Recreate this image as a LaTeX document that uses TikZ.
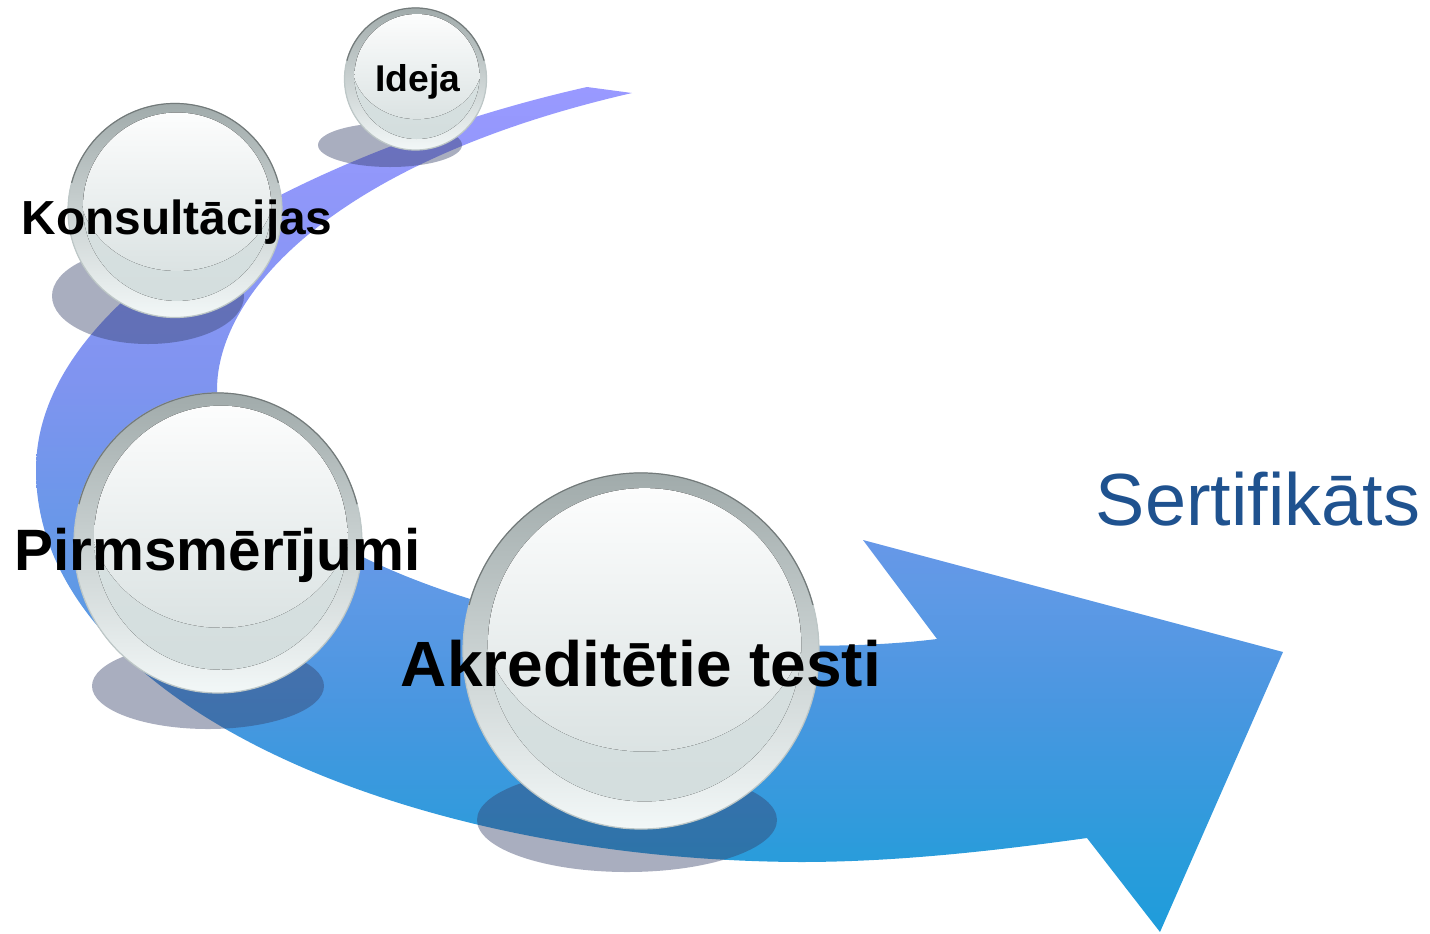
\documentclass[tikz,border=0pt]{standalone}
\usepackage{fontspec}
\setmainfont{Liberation Sans}
\usetikzlibrary{calc}
\definecolor{sertblue}{RGB}{31,82,143}
\definecolor{ringtop}{rgb}{0.63,0.67,0.67}
\definecolor{ringmid}{rgb}{0.79,0.83,0.83}
\definecolor{ringbot}{rgb}{0.95,0.97,0.97}
\definecolor{innermid}{rgb}{0.94,0.96,0.96}
\definecolor{innerbot}{rgb}{0.86,0.89,0.89}
\definecolor{basetop}{rgb}{0.86,0.89,0.89}
\definecolor{basebot}{rgb}{0.83,0.87,0.87}
\definecolor{rimlightc}{rgb}{0.74,0.78,0.78}
\definecolor{rimdarkc}{rgb}{0.45,0.48,0.48}
\definecolor{shadowc}{rgb}{0.20,0.24,0.40}
\pgfdeclareverticalshading{bandshade}{100bp}{%
 rgb(0bp)=(0.12,0.61,0.86);
 rgb(25bp)=(0.12,0.61,0.86);
 rgb(30bp)=(0.17,0.61,0.86);
 rgb(38.7bp)=(0.29,0.59,0.88);
 rgb(45bp)=(0.37,0.60,0.90);
 rgb(57.7bp)=(0.50,0.58,0.94);
 rgb(75bp)=(0.60,0.60,1.00);
 rgb(100bp)=(0.60,0.60,1.00)}
\tikzset{
 ringfill/.style={top color=ringtop, middle color=ringmid, bottom color=ringbot},
 innerbase/.style={top color=basetop, bottom color=basebot},
 innerfill/.style={top color=white, middle color=innermid, bottom color=innerbot},
 rimlight/.style={draw=rimlightc, line width=0.35pt},
 rimdark/.style={draw=rimdarkc, line width=0.35pt},
 shadowfill/.style={fill=shadowc, fill opacity=0.42},
 lbl/.style={anchor=base, inner sep=0pt, text=black},
}
\newcommand{\glassball}[5]{%
 \pgfmathsetmacro{\gbrx}{0.88*#4}%
 \pgfmathsetmacro{\gbry}{0.88*#5}%
 \pgfmathsetmacro{\gbxi}{#2+0.02*#4}%
 \pgfmathsetmacro{\gbyi}{#3-0.035*#5}%
 \pgfmathsetmacro{\gbhy}{\gbyi-0.2*#5}%
 \pgfmathsetmacro{\gbhrx}{0.92*#4}%
 \pgfmathsetmacro{\gbhry}{0.8*#5}%
 \fill[ringfill] (#2,#3) ellipse [x radius=#4, y radius=#5];
 \fill[innerbase] (\gbxi,\gbyi) ellipse [x radius=\gbrx, y radius=\gbry];
 \begin{scope}
  \clip (\gbxi,\gbyi) ellipse [x radius=\gbrx, y radius=\gbry];
  \fill[innerfill] (\gbxi,\gbhy) ellipse [x radius=\gbhrx, y radius=\gbhry];
 \end{scope}
 \draw[rimlight] (#2,#3) ellipse [x radius=#4, y radius=#5];
 \draw[rimdark] (#2,#3) ++(195:#4 and #5) arc [start angle=195, end angle=345, x radius=#4, y radius=#5];
 \coordinate (#1) at (#2,#3);
}
\begin{document}
\begin{tikzpicture}[x={(0.01cm,0)}, y={(0,-0.01cm)}]
\useasboundingbox (0,0) rectangle (1430,933);
% curved arrow band
\path[shading=bandshade]
  (587,87) .. controls (350,140) and (36,280) .. (36,470)
  .. controls (36,700) and (400,860) .. (800,862)
  .. controls (900,862) and (1000,850) .. (1087,838)
  -- (1160,932) -- (1283,652) -- (863,540) -- (937,639)
  .. controls (800,656) and (600,640) .. (467,598)
  .. controls (300,545) and (217,470) .. (217,390)
  .. controls (217,290) and (340,160) .. (632,93)
  -- cycle;
% shadows
\fill[shadowfill] (390,145) ellipse [x radius=72, y radius=22];
\fill[shadowfill] (148,296) ellipse [x radius=96, y radius=48];
\fill[shadowfill] (208,686) ellipse [x radius=116, y radius=43];
\fill[shadowfill] (627,820) ellipse [x radius=150, y radius=52];
% glass balls
\glassball{bideja}{415.5}{79}{71}{71}
\glassball{bkons}{175}{210.5}{107}{107}
\glassball{bpirms}{218}{543}{144}{150}
\glassball{bakred}{641}{651}{178}{178}
% labels
\node[lbl, font=\fontsize{10.6}{12}\selectfont\bfseries] (ideja) at (418,91) {Ideja};
\node[lbl, font=\fontsize{13.6}{15}\selectfont\bfseries] (kons) at (177,234) {Konsultācijas};
\node[lbl, font=\fontsize{16.6}{18}\selectfont\bfseries] (pirms) at (217.5,570) {Pirmsmērījumi};
\node[lbl, font=\fontsize{18.2}{20}\selectfont\bfseries] (akred) at (641,686) {Akreditētie testi};
\node[lbl, text=sertblue, font=\fontsize{21}{23}\selectfont] (sert) at (1258,525) {Sertifikāts};
\end{tikzpicture}
\end{document}
